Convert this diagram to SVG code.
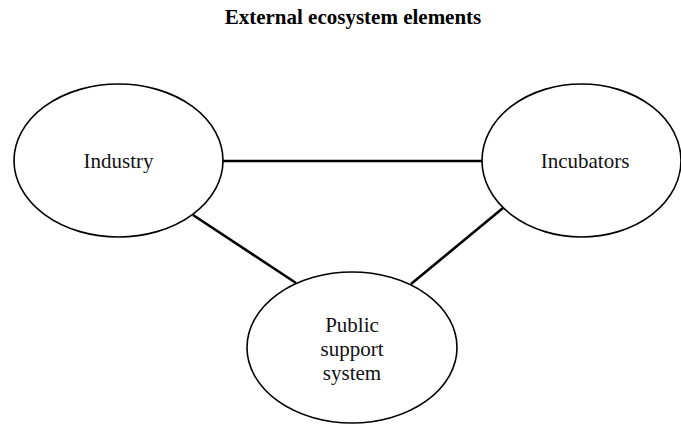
<svg xmlns="http://www.w3.org/2000/svg" width="681" height="425" viewBox="0 0 681 425">
<style>
.node ellipse{fill:#fff;stroke:#000;stroke-width:1.6}
.lbl{font-family:"Liberation Serif","Times New Roman",serif;font-size:21px;fill:#111;text-anchor:middle}
.title{font-family:"Liberation Serif","Times New Roman",serif;font-size:21px;font-weight:bold;fill:#000;text-anchor:middle}
.edge{stroke:#000;stroke-width:2.6;fill:none}
</style>
<rect width="681" height="425" fill="#fff"/>
<text class="title" x="353" y="24">External ecosystem elements</text>
<g id="connectors">
<line class="edge" x1="223" y1="161" x2="482" y2="161"/>
<line class="edge" x1="193" y1="215" x2="296" y2="283"/>
<line class="edge" x1="503" y1="208" x2="411" y2="284"/>
</g>
<g id="industry" class="node">
<ellipse cx="118.5" cy="160.5" rx="104.5" ry="76.5"/>
<text class="lbl" x="118.5" y="168">Industry</text>
</g>
<g id="incubators" class="node">
<ellipse cx="581.5" cy="160.5" rx="99.5" ry="76.5"/>
<text class="lbl" x="585" y="168">Incubators</text>
</g>
<g id="public" class="node">
<ellipse cx="352" cy="347.5" rx="105" ry="75.5"/>
<text class="lbl" x="352" y="332">Public</text>
<text class="lbl" x="352" y="356">support</text>
<text class="lbl" x="352" y="380">system</text>
</g>
</svg>
